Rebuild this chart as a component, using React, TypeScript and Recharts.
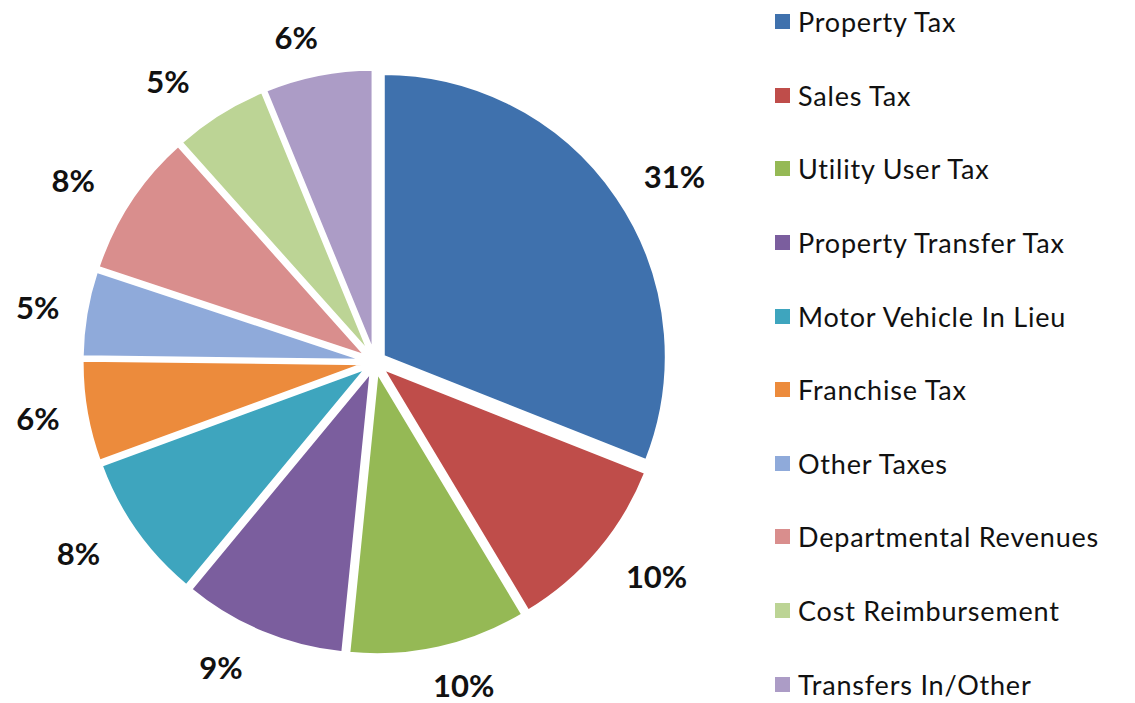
import { PieChart, Pie, Cell, Sector } from 'recharts';

const CATEGORIES = [
  'Property Tax',
  'Sales Tax',
  'Utility User Tax',
  'Property Transfer Tax',
  'Motor Vehicle In Lieu',
  'Franchise Tax',
  'Other Taxes',
  'Departmental Revenues',
  'Cost Reimbursement',
  'Transfers In/Other',
];

const SHARES = [31.0, 10.4, 10.2, 9.4, 8.4, 5.8, 4.9, 8.3, 5.4, 6.2];

const COLORS = [
  '#3F71AD',
  '#BF4D4A',
  '#95B955',
  '#7B5E9E',
  '#3EA5BE',
  '#EC8B3C',
  '#8FAADA',
  '#D98E8D',
  '#BCD495',
  '#AC9CC6',
];

const chartData = CATEGORIES.map((name, i) => ({ name, value: SHARES[i] }));

const RADIAN = Math.PI / 180;
const EXPLODE = 10;
const FONT = 'Lato, "Open Sans", sans-serif';

// every slice pushed out along its mid angle
function ExplodedSector(props: any) {
  const mid = (props.startAngle + props.endAngle) / 2;
  const dx = EXPLODE * Math.cos(-mid * RADIAN);
  const dy = EXPLODE * Math.sin(-mid * RADIAN);
  return <Sector {...props} cx={props.cx + dx} cy={props.cy + dy} />;
}

function renderLabel(props: any) {
  const { cx, cy, midAngle, outerRadius, percent } = props;
  const sin = Math.sin(-midAngle * RADIAN);
  const cos = Math.cos(-midAngle * RADIAN);
  // labels sit a bit wider near the top and bottom, like Excel's outside-end
  const rx = outerRadius + 57 + 70 * sin * sin;
  const ry = outerRadius + 48;
  const x = cx + rx * cos;
  const y = cy + ry * sin;
  return (
    <text
      x={x}
      y={y}
      fill="#111"
      textAnchor="middle"
      dominantBaseline="central"
      fontSize={31}
      fontWeight="bold"
      fontFamily={FONT}
    >
      {`${Math.round(percent * 100)}%`}
    </text>
  );
}

function LegendList() {
  return (
    <div style={{ position: 'absolute', left: 775, top: -15, fontFamily: FONT }}>
      {chartData.map((d, i) => (
        <div key={d.name} style={{ display: 'flex', alignItems: 'center', height: 73.6 }}>
          <span
            style={{ width: 15, height: 15, background: COLORS[i], marginRight: 8, display: 'inline-block' }}
          />
          <span style={{ fontSize: 27, letterSpacing: 0.8, color: '#111' }}>{d.name}</span>
        </div>
      ))}
    </div>
  );
}

export default function App() {
  return (
    <div
      style={{
        position: 'absolute',
        left: 0,
        top: 0,
        width: 1135,
        height: 703,
        background: '#fff',
        overflow: 'hidden',
      }}
    >
      <PieChart width={740} height={703} margin={{ top: 0, right: 0, bottom: 0, left: 0 }}>
        <Pie
          data={chartData}
          dataKey="value"
          nameKey="name"
          cx={375}
          cy={362}
          outerRadius={283}
          startAngle={90}
          endAngle={-270}
          stroke="#fff"
          strokeWidth={3}
          shape={ExplodedSector}
          label={renderLabel}
          labelLine={false}
          isAnimationActive={false}
        >
          {chartData.map((_, i) => (
            <Cell key={`cell-${i}`} fill={COLORS[i]} />
          ))}
        </Pie>
      </PieChart>
      <LegendList />
    </div>
  );
}
